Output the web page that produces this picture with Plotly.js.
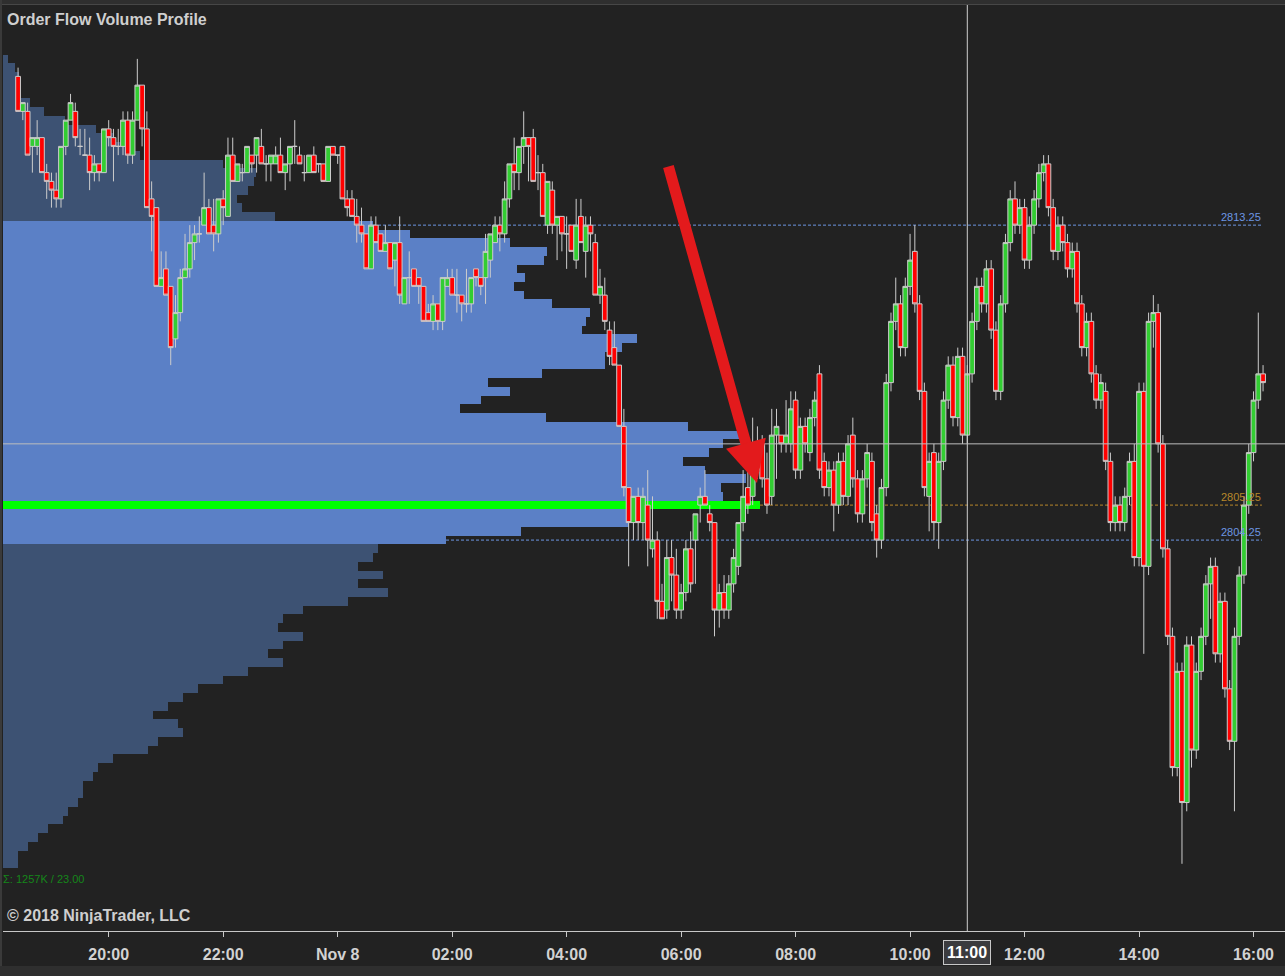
<!DOCTYPE html>
<html><head><meta charset="utf-8">
<script src="https://cdn.plot.ly/plotly-3.0.1.min.js"></script>
<style>html,body{margin:0;padding:0;background:#222;}#chart{width:1285px;height:976px;}</style>
</head><body><div id="chart"></div>
<script>
// ---- 5-minute bars, Nov 7 2018 18:25 -> Nov 8 2018 16:10 ----
const barStartUTC = Date.UTC(2018, 10, 7, 18, 25);
const barMinutes = 5;

const open = [
2817.5,2816.5,2816.5,2815.5,2815.5,2815.75,2814.75,2814.5,2814.25,2814.0,
2815.5,2816.25,2816.5,2815.5,2815.25,2815.25,2814.75,2815.0,2814.75,2816.0,
2815.75,2815.5,2815.5,2816.25,2815.25,2816.25,2817.25,2816.0,2814.0,2813.75,
2811.5,2812.0,2811.5,2810.0,2810.75,2811.75,2812.0,2812.75,2813.0,2813.25,
2813.75,2813.25,2813.0,2814.0,2813.5,2815.25,2814.5,2814.75,2814.75,2815.25,
2815.25,2815.5,2815.0,2815.0,2815.0,2815.25,2814.75,2815.0,2815.5,2815.25,
2814.75,2814.75,2815.25,2815.0,2815.0,2814.5,2815.5,2815.25,2815.5,2814.0,
2814.0,2813.5,2813.25,2813.0,2812.0,2813.25,2813.0,2812.5,2812.75,2812.25,
2812.75,2811.0,2811.75,2812.0,2811.75,2811.5,2810.75,2810.5,2811.0,2810.5,
2811.5,2811.75,2811.25,2811.25,2811.0,2811.0,2812.0,2811.75,2811.75,2812.25,
2812.75,2813.25,2813.0,2814.0,2815.0,2814.75,2815.5,2815.75,2815.75,2814.75,
2814.75,2813.25,2814.25,2813.25,2813.5,2813.0,2813.25,2812.25,2813.5,2812.5,
2813.25,2812.75,2811.25,2811.25,2810.25,2809.75,2809.25,2807.5,2805.75,2804.75,
2805.5,2804.75,2805.25,2804.0,2804.25,2802.5,2802.25,2803.75,2803.25,2802.25,
2802.75,2804.0,2804.25,2805.25,2805.5,2805.0,2804.75,2802.25,2802.75,2802.25,
2803.0,2803.5,2804.75,2805.75,2805.5,2806.25,2807.0,2806.0,2805.5,2807.25,
2807.25,2807.0,2807.0,2808.25,2806.25,2807.5,2806.75,2807.75,2809.0,2806.5,
2805.75,2806.25,2805.25,2806.5,2805.5,2807.25,2806.0,2805.0,2806.0,2806.5,
2805.0,2804.25,2805.75,2808.75,2810.5,2811.0,2809.75,2811.5,2812.5,2811.0,
2808.5,2805.5,2806.75,2804.75,2806.5,2808.25,2809.25,2807.75,2809.5,2807.25,
2809.0,2810.5,2811.5,2811.0,2812.0,2810.25,2808.5,2811.0,2812.75,2814.0,
2813.25,2813.75,2812.25,2813.25,2814.0,2814.75,2815.0,2813.75,2812.5,2813.25,
2812.75,2812.0,2812.5,2811.0,2809.75,2810.5,2809.0,2808.25,2808.5,2806.5,
2804.75,2805.25,2804.75,2805.5,2806.5,2803.75,2808.5,2803.5,2810.5,2810.75,
2807.0,2804.0,2801.5,2797.75,2800.5,2796.75,2801.25,2798.25,2800.5,2801.5,
2803.0,2803.5,2801.0,2802.5,2800.0,2798.5,2801.5,2803.25,2805.25,2806.75,
2808.25,2809.0];

const high = [
2817.75,2816.75,2816.75,2815.75,2816.25,2815.75,2815.0,2814.75,2814.75,2815.5,
2816.25,2817.0,2816.75,2816.0,2816.0,2815.75,2815.25,2815.0,2816.0,2816.25,
2816.0,2816.0,2816.5,2816.5,2816.5,2818.0,2817.25,2816.5,2814.5,2813.75,
2812.5,2812.5,2811.5,2811.25,2812.0,2813.0,2813.25,2813.25,2813.5,2814.75,
2814.0,2814.0,2814.0,2814.25,2815.75,2815.75,2815.0,2815.0,2815.5,2815.25,
2815.75,2816.0,2815.25,2815.25,2815.5,2815.75,2815.0,2815.5,2816.25,2815.5,
2815.25,2815.25,2815.5,2815.0,2815.0,2815.5,2815.5,2815.25,2815.5,2814.25,
2814.25,2814.0,2813.75,2813.0,2813.5,2813.5,2813.0,2813.25,2812.75,2812.75,
2813.5,2811.75,2812.5,2812.0,2811.75,2811.5,2811.0,2811.25,2811.0,2811.75,
2812.0,2812.0,2812.0,2811.25,2812.0,2811.75,2812.0,2811.75,2813.0,2813.0,
2813.5,2813.5,2814.5,2815.0,2815.75,2815.5,2816.5,2815.75,2816.0,2815.25,
2815.0,2814.5,2814.5,2813.5,2813.5,2813.5,2813.25,2814.0,2814.0,2813.5,
2813.5,2813.0,2812.0,2811.75,2810.5,2810.5,2809.25,2808.0,2805.75,2805.5,
2805.75,2805.75,2806.25,2805.5,2804.5,2803.0,2804.25,2804.25,2804.0,2803.0,
2804.25,2804.5,2805.0,2805.75,2806.25,2805.25,2804.75,2803.0,2803.25,2803.25,
2804.0,2804.75,2806.25,2806.25,2807.75,2807.5,2807.25,2806.75,2808.0,2808.0,
2807.25,2808.25,2808.5,2808.5,2807.75,2807.75,2808.0,2808.5,2809.25,2806.75,
2806.5,2806.5,2806.75,2806.75,2807.25,2807.75,2806.25,2806.25,2807.0,2806.75,
2805.25,2806.0,2809.0,2810.75,2811.75,2811.25,2811.75,2813.0,2813.25,2811.25,
2808.75,2806.75,2807.0,2806.75,2808.5,2809.5,2809.5,2809.75,2809.75,2809.25,
2810.75,2811.75,2811.75,2812.25,2812.25,2810.5,2811.25,2813.0,2814.25,2814.5,
2814.0,2814.0,2813.5,2814.25,2815.0,2815.25,2815.25,2814.0,2813.5,2813.5,
2813.0,2812.75,2812.75,2811.25,2810.75,2810.75,2809.25,2809.0,2808.75,2806.75,
2805.5,2805.5,2805.75,2806.75,2807.0,2808.75,2808.75,2810.75,2811.25,2811.0,
2807.25,2804.25,2801.75,2800.75,2800.75,2801.5,2801.5,2800.75,2801.75,2803.25,
2803.75,2803.75,2802.75,2802.75,2800.25,2801.75,2803.5,2805.5,2807.0,2808.5,
2810.75,2809.25];

const low = [
2816.5,2816.25,2815.25,2814.75,2815.25,2814.75,2814.0,2813.75,2813.75,2813.75,
2815.25,2816.25,2815.5,2815.25,2815.25,2814.25,2814.5,2814.5,2814.75,2815.5,
2814.5,2815.25,2815.25,2815.0,2815.0,2816.25,2815.5,2813.75,2812.5,2811.5,
2811.5,2811.25,2809.25,2809.75,2810.5,2811.75,2811.75,2812.25,2812.75,2813.25,
2813.0,2812.5,2812.75,2813.25,2813.5,2814.5,2814.5,2814.5,2814.75,2814.75,
2814.75,2815.0,2814.5,2814.5,2815.0,2814.75,2814.25,2814.5,2815.0,2815.0,
2814.5,2814.75,2814.75,2814.75,2814.5,2814.5,2815.25,2815.0,2814.0,2813.5,
2813.5,2812.75,2812.75,2812.0,2812.0,2812.75,2812.5,2812.5,2812.0,2811.5,
2811.0,2811.0,2811.0,2811.5,2811.0,2810.5,2810.5,2810.25,2810.25,2810.25,
2811.5,2811.25,2810.75,2810.5,2810.75,2810.75,2811.5,2811.25,2811.0,2811.75,
2812.75,2812.5,2812.75,2813.75,2814.25,2814.25,2815.0,2814.5,2814.5,2814.25,
2813.5,2813.0,2813.0,2812.25,2812.5,2812.0,2812.5,2812.0,2812.75,2811.75,
2812.5,2811.25,2811.0,2810.25,2809.25,2809.25,2807.5,2805.5,2803.5,2804.25,
2804.25,2804.25,2803.5,2803.75,2802.0,2802.0,2802.0,2802.5,2802.0,2802.0,
2802.5,2802.75,2803.0,2804.75,2805.25,2804.5,2801.5,2801.75,2802.0,2802.0,
2802.75,2803.25,2804.5,2805.0,2805.25,2806.0,2805.75,2805.0,2805.25,2806.0,
2806.75,2806.75,2806.75,2806.0,2806.0,2806.75,2806.5,2807.5,2806.0,2805.5,
2805.5,2804.5,2805.0,2805.25,2805.25,2805.75,2804.75,2804.75,2805.75,2804.5,
2803.75,2804.0,2805.5,2808.5,2810.25,2809.5,2809.5,2811.25,2810.75,2808.25,
2805.5,2804.5,2804.25,2804.0,2806.25,2808.0,2807.5,2807.5,2807.0,2807.0,
2808.75,2810.25,2810.75,2810.75,2810.0,2808.25,2808.25,2810.75,2812.5,2813.0,
2813.0,2812.0,2812.0,2813.0,2813.75,2814.5,2813.5,2812.25,2812.25,2812.5,
2811.75,2811.75,2810.75,2809.5,2809.5,2808.75,2808.0,2808.0,2806.25,2804.5,
2804.5,2804.5,2804.5,2805.25,2803.5,2803.5,2801.0,2803.25,2809.75,2806.75,
2803.75,2801.25,2797.5,2797.5,2795.0,2796.5,2797.75,2798.0,2800.25,2801.25,
2802.0,2800.75,2800.75,2799.75,2798.25,2796.5,2801.25,2803.0,2805.0,2806.5,
2808.0,2808.5];

const close = [
2816.5,2816.75,2815.25,2815.75,2815.75,2814.75,2814.5,2814.25,2814.0,2815.5,
2816.25,2816.75,2815.75,2815.5,2815.25,2814.75,2815.0,2814.75,2816.0,2815.75,
2815.5,2815.5,2816.25,2815.25,2816.25,2817.25,2816.0,2813.75,2813.5,2811.5,
2811.75,2811.25,2809.75,2810.75,2811.75,2812.0,2812.75,2813.0,2813.0,2813.75,
2813.0,2813.0,2814.0,2813.75,2815.25,2814.5,2815.0,2814.75,2815.5,2815.0,
2815.75,2815.0,2815.0,2815.25,2815.25,2814.75,2815.0,2815.5,2815.5,2815.0,
2814.75,2815.25,2814.75,2815.0,2814.5,2815.5,2815.25,2815.25,2814.0,2813.75,
2813.5,2813.25,2813.0,2812.0,2813.25,2812.75,2812.5,2812.75,2812.0,2812.75,
2811.25,2811.75,2811.75,2811.5,2811.5,2810.5,2810.5,2811.0,2810.5,2811.75,
2811.75,2811.25,2811.25,2811.0,2811.0,2811.75,2811.75,2811.5,2812.5,2813.0,
2813.25,2813.0,2814.0,2815.0,2814.75,2815.5,2815.75,2815.5,2814.5,2814.75,
2813.5,2814.5,2813.25,2813.5,2813.0,2813.0,2812.5,2813.25,2812.75,2813.25,
2813.0,2811.25,2811.5,2810.5,2809.5,2809.25,2807.5,2805.75,2804.75,2805.5,
2804.75,2805.5,2804.25,2804.25,2802.5,2802.0,2803.75,2803.25,2802.25,2802.75,
2804.0,2803.0,2805.0,2805.5,2805.25,2804.75,2802.25,2802.75,2802.25,2803.0,
2803.75,2804.75,2805.5,2805.25,2806.25,2807.0,2806.0,2805.25,2807.25,2807.5,
2807.0,2807.25,2808.0,2806.25,2807.5,2807.0,2807.75,2808.25,2806.25,2805.75,
2806.25,2805.25,2806.5,2805.5,2807.0,2806.0,2805.0,2806.0,2806.75,2804.75,
2804.25,2805.75,2808.75,2810.5,2811.0,2809.75,2811.5,2812.25,2811.0,2808.5,
2805.75,2806.5,2804.75,2806.5,2808.25,2809.25,2807.75,2809.5,2807.25,2809.0,
2810.5,2811.5,2811.0,2812.0,2810.25,2808.5,2811.0,2812.75,2814.0,2813.25,
2813.75,2812.25,2813.25,2814.0,2814.75,2815.0,2813.75,2812.5,2813.25,2812.75,
2812.0,2812.5,2811.0,2809.75,2810.5,2809.0,2808.25,2808.75,2806.5,2804.75,
2805.25,2804.75,2805.5,2806.5,2803.75,2808.5,2803.5,2810.5,2810.75,2807.0,
2804.0,2801.5,2797.75,2800.5,2796.75,2801.25,2798.25,2800.5,2801.5,2803.0,
2803.5,2801.0,2802.5,2800.0,2798.5,2801.5,2803.25,2805.25,2806.75,2808.25,
2809.0,2808.75];

// ---- volume profile (price level -> contracts) ----
const profileLevels = [
2818.0,2817.75,2817.5,2817.25,2817.0,2816.75,2816.5,2816.25,2816.0,2815.75,
2815.5,2815.25,2815.0,2814.75,2814.5,2814.25,2814.0,2813.75,2813.5,2813.25,
2813.0,2812.75,2812.5,2812.25,2812.0,2811.75,2811.5,2811.25,2811.0,2810.75,
2810.5,2810.25,2810.0,2809.75,2809.5,2809.25,2809.0,2808.75,2808.5,2808.25,
2808.0,2807.75,2807.5,2807.25,2807.0,2806.75,2806.5,2806.25,2806.0,2805.75,
2805.5,2805.25,2805.0,2804.75,2804.5,2804.25,2804.0,2803.75,2803.5,2803.25,
2803.0,2802.75,2802.5,2802.25,2802.0,2801.75,2801.5,2801.25,2801.0,2800.75,
2800.5,2800.25,2800.0,2799.75,2799.5,2799.25,2799.0,2798.75,2798.5,2798.25,
2798.0,2797.75,2797.5,2797.25,2797.0,2796.75,2796.5,2796.25,2796.0,2795.75,
2795.5,2795.25,2795.0];
const profileVolume = [
200,480,640,640,640,1080,1640,2480,3720,4400,
4880,5480,8800,10120,10040,9800,9360,9560,10880,14800,
16280,20280,21760,21640,20560,20880,20440,20840,21960,23480,
23320,23160,25360,24760,24080,24080,21560,19400,20280,19120,
18280,21720,27400,29480,28800,28240,27200,28080,29720,28720,
28800,30280,25040,25040,20720,17720,15000,14800,14200,15200,
14200,15400,13800,12000,11200,11000,12000,11200,10600,11200,
9800,8800,7800,7200,6600,6000,7000,7200,6200,5800,
4400,3800,3600,3200,3200,3000,2600,2400,1800,1400,
1000,600,600];
const valueAreaHigh = 2813.25;
const valueAreaLow = 2804.25;
const pocPrice = 2805.25;
const totalText = 'Σ: 1257K / 23.00';

const cursorTime = '2018-11-08 11:00';
const cursorPrice = 2807.0;
const cursorLabel = '11:00';

const tickTimes = ['2018-11-07 20:00','2018-11-07 22:00','2018-11-08 00:00','2018-11-08 02:00',
  '2018-11-08 04:00','2018-11-08 06:00','2018-11-08 08:00','2018-11-08 10:00',
  '2018-11-08 12:00','2018-11-08 14:00','2018-11-08 16:00'];
const tickLabels = ['20:00','22:00','Nov 8','02:00','04:00','06:00','08:00','10:00','12:00','14:00','16:00'];

// ---- build ----
const times = open.map((_, i) => new Date(barStartUTC + i * barMinutes * 60000)
  .toISOString().slice(0, 19).replace('T', ' '));

const VA_COLOR = '#5b80c6', OUT_COLOR = '#3d5273', POC_COLOR = '#00ff00';
const profileColors = profileLevels.map(p => p === pocPrice ? POC_COLOR :
  (p <= valueAreaHigh && p >= valueAreaLow ? VA_COLOR : OUT_COLOR));

const VOL_MAX = 51280;          // volume-axis span across the plot width
const LINE_END = 0.982;         // right end of level lines (paper)
const volAt = p => profileVolume[profileLevels.indexOf(p)];

const FONT = 'Liberation Sans, Arial, sans-serif';

const profileTrace = {
  type: 'bar', orientation: 'h', y: profileLevels, x: profileVolume,
  width: 0.25, xaxis: 'x', yaxis: 'y',
  marker: {color: profileColors, line: {width: 0}}, hoverinfo: 'skip'
};
const candleTrace = {
  type: 'candlestick', x: times, open: open, high: high, low: low, close: close,
  xaxis: 'x2', yaxis: 'y', whiskerwidth: 0,
  increasing: {line: {color: '#cccccc', width: 1}, fillcolor: '#32cd32'},
  decreasing: {line: {color: '#cccccc', width: 1}, fillcolor: '#ff0000'},
  hoverinfo: 'skip'
};

const levelLine = (price, color) => ({
  type: 'line', layer: 'below', xref: 'paper', yref: 'y',
  x0: volAt(price) / VOL_MAX, x1: LINE_END, y0: price, y1: price,
  line: {color: color, width: 1, dash: '3px,2px'}
});
const levelLabel = (price, color) => ({
  xref: 'paper', yref: 'y', x: LINE_END, y: price, xanchor: 'right', yanchor: 'bottom',
  text: price.toFixed(2), showarrow: false, font: {family: FONT, size: 11, color: color},
  borderpad: 0, yshift: 1
});

// pixel helpers for decoration placement (plot area: x 3..1285, y 5..931)
const PX = x => (x - 3) / 1282;
const PY = y => (931 - y) / 926;

const layout = {
  width: 1285, height: 976,
  margin: {l: 3, r: 0, t: 5, b: 45, pad: 0},
  paper_bgcolor: '#222222', plot_bgcolor: '#222222',
  showlegend: false, boxgap: 0, boxgroupgap: 0, bargap: 0,
  font: {family: FONT, color: '#d2d2d2'},
  title: {text: 'Order Flow Volume Profile', xref: 'container', yref: 'container',
    x: 7 / 1285, xanchor: 'left', y: 1 - 19.5 / 976, yanchor: 'middle',
    font: {family: FONT, size: 16, weight: 'bold', color: '#cfcfcf'}},
  xaxis: {range: [0, VOL_MAX], showgrid: false, zeroline: false, showline: false,
    showticklabels: false, ticks: '', fixedrange: true},
  xaxis2: {type: 'date', overlaying: 'x', side: 'bottom',
    range: ['2018-11-07 18:09:12', '2018-11-08 16:33:00'],
    tickmode: 'array', tickvals: tickTimes, ticktext: tickLabels,
    showgrid: false, zeroline: false, showline: true, linecolor: '#c8c8c8', linewidth: 1,
    ticks: 'outside', ticklen: 5, tickwidth: 1, tickcolor: '#c8c8c8', ticklabelstandoff: 4,
    tickfont: {family: FONT, size: 16, weight: 'bold', color: '#d2d2d2'},
    rangeslider: {visible: false}, fixedrange: true},
  yaxis: {range: [2793.08, 2819.54], showgrid: false, zeroline: false, showline: false,
    showticklabels: false, ticks: '', fixedrange: true},
  shapes: [
    levelLine(valueAreaHigh, '#6d96e3'),
    levelLine(pocPrice, '#b8872a'),
    levelLine(valueAreaLow, '#6d96e3'),
    {type: 'line', layer: 'above', xref: 'x2', yref: 'paper', x0: cursorTime, x1: cursorTime,
      y0: 0, y1: 1, line: {color: '#cfcfcf', width: 1}},
    {type: 'line', layer: 'above', xref: 'paper', yref: 'y', x0: PX(3), x1: 1,
      y0: cursorPrice, y1: cursorPrice, line: {color: '#bdbdbd', width: 1}},
    {type: 'rect', layer: 'above', xref: 'paper', yref: 'paper', x0: PX(0), x1: 1,
      y0: PY(4), y1: PY(0), fillcolor: '#2f2f2f', line: {width: 0}},
    {type: 'line', layer: 'above', xref: 'paper', yref: 'paper', x0: PX(0), x1: 1,
      y0: PY(4.5), y1: PY(4.5), line: {color: '#474747', width: 1}},
    {type: 'rect', layer: 'above', xref: 'paper', yref: 'paper', x0: PX(0), x1: PX(2),
      y0: PY(976), y1: PY(0), fillcolor: '#3a3a3a', line: {width: 0}},
    {type: 'rect', layer: 'above', xref: 'paper', yref: 'paper', x0: PX(0), x1: 1,
      y0: PY(976), y1: PY(966), fillcolor: '#2f2f2f', line: {width: 0}}
  ],
  annotations: [
    levelLabel(valueAreaHigh, '#6d96e3'),
    levelLabel(pocPrice, '#b8872a'),
    levelLabel(valueAreaLow, '#6d96e3'),
    {xref: 'paper', yref: 'paper', x: PX(2), y: PY(878.5), xanchor: 'left', yanchor: 'middle',
      text: totalText, showarrow: false, borderpad: 0,
      font: {family: FONT, size: 11, color: '#15861a'}},
    {xref: 'paper', yref: 'paper', x: PX(6), y: PY(915), xanchor: 'left', yanchor: 'middle',
      text: '© 2018 NinjaTrader, LLC', showarrow: false, borderpad: 0,
      font: {family: FONT, size: 16, weight: 'bold', color: '#cfcfcf'}},
    {xref: 'x2', yref: 'paper', x: cursorTime, y: PY(952), xanchor: 'center', yanchor: 'middle',
      text: cursorLabel, showarrow: false, bgcolor: '#3b3b3e', bordercolor: '#c8c8c8',
      borderwidth: 1, borderpad: 3,
      font: {family: FONT, size: 16, weight: 'bold', color: '#ffffff'}},
    {xref: 'paper', yref: 'paper', x: PX(757), y: PY(483), text: '', showarrow: true,
      axref: 'pixel', ayref: 'pixel', ax: -89, ay: -318, arrowhead: 2, arrowsize: 0.75,
      arrowwidth: 11, arrowcolor: '#e31a1c', standoff: 0}
  ]
};

Plotly.newPlot('chart', [profileTrace, candleTrace], layout,
  {displayModeBar: false, staticPlot: true});
</script>
</body></html>
